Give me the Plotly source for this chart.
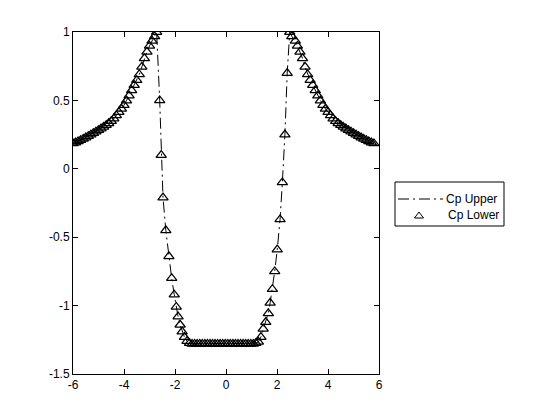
import plotly.graph_objects as go

# x positions along the surface and pressure coefficient values
x_vals = [-6.0, -5.9, -5.8, -5.7, -5.6, -5.5, -5.4, -5.3, -5.2, -5.1, -5.0, -4.9, -4.8, -4.7,
          -4.6, -4.5, -4.4, -4.3, -4.2, -4.1, -4.0, -3.9, -3.8, -3.7, -3.6, -3.5, -3.4, -3.3,
          -3.2, -3.1, -3.0, -2.9, -2.8, -2.72,
          -2.60, -2.54, -2.47, -2.36, -2.24, -2.13, -2.03, -1.95, -1.88, -1.80, -1.72, -1.63,
          -1.53, -1.43,
          -1.33, -1.23, -1.13, -1.03, -0.93, -0.83, -0.73, -0.63, -0.53, -0.43, -0.33, -0.23,
          -0.13, -0.03, 0.07, 0.17, 0.27, 0.37, 0.47, 0.57, 0.67, 0.77, 0.87, 0.97, 1.07, 1.17,
          1.27, 1.37,
          1.46, 1.56, 1.66, 1.73, 1.82, 1.91, 2.01, 2.12, 2.21, 2.31, 2.40, 2.50, 2.58, 2.72,
          2.8, 2.9, 3.0, 3.1, 3.2, 3.3, 3.4, 3.5, 3.6, 3.7, 3.8, 3.9, 4.0, 4.1, 4.2, 4.3, 4.4,
          4.5, 4.6, 4.7, 4.8, 4.9, 5.0, 5.1, 5.2, 5.3, 5.4, 5.5, 5.6, 5.7, 5.8, 5.9, 6.0]

cp_vals = [0.185, 0.192, 0.200, 0.209, 0.218, 0.228, 0.238, 0.249, 0.260, 0.271, 0.282, 0.294,
           0.306, 0.319, 0.333, 0.348, 0.366, 0.390, 0.414, 0.438, 0.465, 0.499, 0.535, 0.574,
           0.612, 0.648, 0.690, 0.745, 0.808, 0.855, 0.898, 0.935, 0.968, 1.0,
           0.50, 0.10, -0.21, -0.45, -0.64, -0.80, -0.92, -1.01, -1.08, -1.14, -1.19, -1.23,
           -1.26, -1.275,
           -1.28, -1.28, -1.28, -1.28, -1.28, -1.28, -1.28, -1.28, -1.28, -1.28, -1.28, -1.28,
           -1.28, -1.28, -1.28, -1.28, -1.28, -1.28, -1.28, -1.28, -1.28, -1.28, -1.28, -1.28,
           -1.28, -1.275,
           -1.265, -1.23, -1.17, -1.12, -1.056, -0.98, -0.88, -0.75, -0.59, -0.37, -0.10, 0.25,
           0.70, 1.0,
           0.968, 0.935, 0.898, 0.855, 0.808, 0.745, 0.690, 0.648, 0.612, 0.574, 0.535, 0.499,
           0.465, 0.438, 0.414, 0.390, 0.366, 0.348, 0.333, 0.319, 0.306, 0.294, 0.282, 0.271,
           0.260, 0.249, 0.238, 0.228, 0.218, 0.209, 0.200, 0.192, 0.185]

series_names = ["Cp Upper", "Cp Lower"]
x_ticks = [-6, -4, -2, 0, 2, 4, 6]
y_ticks = [-1.5, -1, -0.5, 0, 0.5, 1]
y_tick_text = ["-1.5", "-1", "-0.5", "0", "0.5", "1"]

FONT = "Liberation Sans, Arial, Helvetica, sans-serif"
DASHDOT = "11px,4px,2px,4px"

# plot area in pixels (layout)
L, R, T, B = 73, 379, 32, 374
W, H = 560, 420


def px(xp):
    return (xp - L) / (R - L)


def py(yp):
    return (B - yp) / (B - T)


fig = go.Figure()
fig.add_trace(go.Scatter(
    x=x_vals, y=cp_vals, mode="lines", name=series_names[0], showlegend=False,
    line=dict(color="black", width=1, dash=DASHDOT),
))
fig.add_trace(go.Scatter(
    x=x_vals, y=cp_vals, mode="markers", name=series_names[1], showlegend=False,
    marker=dict(symbol="triangle-up-open", size=9, color="black",
                line=dict(width=1.25, color="black")),
))

axis_common = dict(
    showline=True, linecolor="black", linewidth=1, mirror="ticks",
    ticks="inside", ticklen=5, tickcolor="black", showgrid=False, zeroline=False,
    tickfont=dict(family=FONT, size=12, color="black"),
)

fig.update_xaxes(range=[-6, 6], tickvals=x_ticks, ticktext=[str(v) for v in x_ticks], **axis_common)
fig.update_yaxes(range=[-1.5, 1], tickvals=y_ticks, ticktext=y_tick_text, **axis_common)

# custom legend box (MATLAB style)
shapes = [
    dict(type="rect", xref="paper", yref="paper", x0=px(395), x1=px(504), y0=py(226), y1=py(182),
         line=dict(color="black", width=1), fillcolor="white", layer="above"),
    dict(type="line", xref="paper", yref="paper", x0=px(398), x1=px(443), y0=py(199), y1=py(199),
         line=dict(color="black", width=1, dash=DASHDOT), layer="above"),
    dict(type="path", xref="paper", yref="paper",
         path="M {a},{b} L {c},{b} L {d},{e} Z".format(a=px(414.5), c=px(423.5), b=py(218),
                                                      d=px(419), e=py(212)),
         line=dict(color="black", width=1), layer="above"),
]
annotations = [
    dict(xref="paper", yref="paper", x=px(444), y=py(199), text=series_names[0], showarrow=False,
         xanchor="left", yanchor="middle", font=dict(family=FONT, size=12, color="black")),
    dict(xref="paper", yref="paper", x=px(446), y=py(215), text=series_names[1], showarrow=False,
         xanchor="left", yanchor="middle", font=dict(family=FONT, size=12, color="black")),
]

fig.update_layout(
    width=W, height=H,
    margin=dict(l=L, r=W - R, t=T, b=H - B),
    paper_bgcolor="white", plot_bgcolor="white",
    font=dict(family=FONT, size=12, color="black"),
    showlegend=False,
    shapes=shapes, annotations=annotations,
)

fig.write_html("out.html")
